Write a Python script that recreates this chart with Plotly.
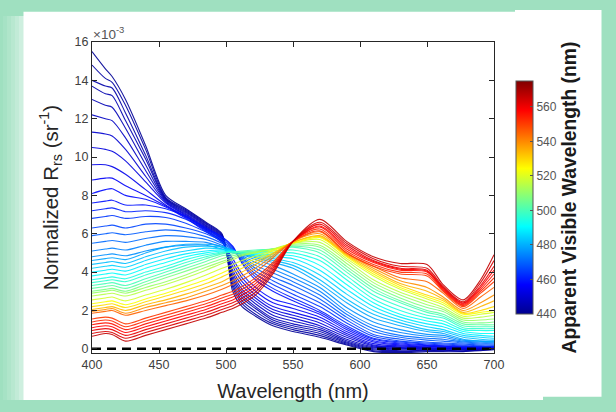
import plotly.graph_objects as go
from plotly.colors import sample_colorscale

# Sampled wavelengths (nm)
wavelength = [400, 410, 415, 425, 440, 455, 470, 485, 497, 505, 512, 522,
              535, 550, 570, 590, 610, 630, 650, 662, 677, 690, 700]

# Normalized Rrs spectra (x 1e-3 sr^-1), grouped by apparent visible wavelength (nm)
avw_navy = [441, 443, 444, 445, 446, 448, 450, 452, 454, 456, 458]
rrs_navy = [
    [15.5, 14.6, 14.2, 13.0, 10.6, 8.0, 7.3, 6.6, 6.0, 3.0, 2.2, 1.7, 1.2, 0.9, 0.6, 0.2, -0.15, -0.2, -0.15, -0.15, -0.15, -0.1, -0.05],
    [14.8, 14.1, 13.9, 12.7, 10.4, 7.9, 7.25, 6.55, 5.95, 3.2, 2.35, 1.8, 1.3, 1.0, 0.7, 0.25, -0.1, -0.15, -0.1, -0.1, -0.12, -0.08, -0.03],
    [14.0, 13.7, 13.6, 12.3, 10.1, 7.85, 7.2, 6.5, 5.9, 3.35, 2.5, 1.95, 1.4, 1.1, 0.8, 0.3, -0.05, -0.1, -0.08, -0.08, -0.1, -0.05, 0.0],
    [13.7, 13.3, 13.2, 11.9, 9.9, 7.8, 7.15, 6.45, 5.85, 3.5, 2.65, 2.1, 1.5, 1.2, 0.9, 0.35, 0.0, -0.05, -0.05, -0.05, -0.05, -0.03, 0.0],
    [13.0, 12.7, 12.6, 11.5, 9.6, 7.75, 7.1, 6.4, 5.8, 3.65, 2.8, 2.2, 1.6, 1.3, 1.0, 0.42, 0.05, 0.0, -0.02, -0.02, -0.03, 0.0, 0.02],
    [12.2, 12.0, 11.9, 11.0, 9.3, 7.7, 7.05, 6.35, 5.75, 3.8, 2.95, 2.35, 1.75, 1.45, 1.1, 0.5, 0.1, 0.03, 0.0, 0.0, 0.0, 0.02, 0.03],
    [11.3, 11.2, 11.1, 10.4, 9.0, 7.65, 7.0, 6.3, 5.7, 3.95, 3.1, 2.5, 1.9, 1.6, 1.2, 0.6, 0.15, 0.07, 0.03, 0.02, 0.02, 0.03, 0.05],
    [10.5, 10.4, 10.3, 9.8, 8.7, 7.6, 6.95, 6.25, 5.65, 4.1, 3.3, 2.65, 2.05, 1.75, 1.35, 0.7, 0.2, 0.1, 0.06, 0.05, 0.04, 0.05, 0.06],
    [9.6, 9.6, 9.5, 9.1, 8.3, 7.5, 6.9, 6.2, 5.6, 4.3, 3.5, 2.8, 2.2, 1.9, 1.5, 0.8, 0.27, 0.15, 0.1, 0.08, 0.06, 0.06, 0.08],
    [8.8, 8.9, 8.9, 8.5, 8.0, 7.45, 6.85, 6.15, 5.6, 4.5, 3.7, 3.0, 2.4, 2.1, 1.65, 0.9, 0.35, 0.2, 0.13, 0.1, 0.08, 0.08, 0.1],
    [8.1, 8.3, 8.35, 8.0, 7.8, 7.4, 6.8, 6.1, 5.55, 4.7, 3.9, 3.2, 2.6, 2.3, 1.8, 1.0, 0.42, 0.25, 0.17, 0.13, 0.1, 0.1, 0.12],
]

avw_blue = [459, 461, 464, 466, 469, 471, 474, 476]
rrs_blue = [
    [7.6, 7.7, 7.75, 7.5, 7.5, 7.3, 6.9, 6.3, 5.85, 5.35, 4.45, 3.6, 3.0, 2.5, 1.9, 1.1, 0.5, 0.3, 0.2, 0.15, 0.1, 0.1, 0.1],
    [7.2, 7.3, 7.35, 7.15, 7.2, 7.1, 6.75, 6.2, 5.8, 5.3, 4.5, 3.75, 3.15, 2.65, 2.0, 1.2, 0.55, 0.35, 0.25, 0.2, 0.15, 0.12, 0.12],
    [6.8, 6.9, 6.95, 6.8, 6.9, 6.85, 6.55, 6.1, 5.7, 5.25, 4.6, 3.9, 3.35, 2.85, 2.2, 1.35, 0.65, 0.4, 0.3, 0.25, 0.2, 0.15, 0.15],
    [6.3, 6.4, 6.45, 6.3, 6.5, 6.5, 6.3, 6.0, 5.6, 5.2, 4.7, 4.05, 3.55, 3.05, 2.4, 1.5, 0.75, 0.5, 0.35, 0.3, 0.25, 0.2, 0.2],
    [5.9, 6.0, 6.05, 5.95, 6.1, 6.2, 6.1, 5.85, 5.5, 5.15, 4.75, 4.2, 3.75, 3.3, 2.6, 1.65, 0.9, 0.6, 0.45, 0.4, 0.3, 0.25, 0.25],
    [5.5, 5.6, 5.65, 5.55, 5.75, 5.9, 5.85, 5.7, 5.4, 5.1, 4.8, 4.35, 3.95, 3.5, 2.8, 1.8, 1.05, 0.7, 0.55, 0.5, 0.35, 0.3, 0.3],
    [5.1, 5.2, 5.25, 5.15, 5.4, 5.6, 5.6, 5.55, 5.3, 5.05, 4.85, 4.5, 4.15, 3.7, 3.0, 1.95, 1.2, 0.85, 0.65, 0.6, 0.4, 0.35, 0.35],
    [4.8, 4.9, 4.95, 4.85, 5.1, 5.3, 5.4, 5.4, 5.2, 5.0, 4.9, 4.65, 4.35, 3.9, 3.2, 2.15, 1.4, 1.0, 0.75, 0.7, 0.45, 0.4, 0.4],
]

avw_cyan = [479, 482, 485, 488, 491, 494, 497]
rrs_cyan = [
    [4.6, 4.7, 4.75, 4.65, 5.0, 5.3, 5.45, 5.45, 5.35, 5.15, 4.95, 4.75, 4.5, 4.2, 3.4, 2.4, 1.6, 1.2, 0.9, 0.8, 0.5, 0.4, 0.35],
    [4.4, 4.5, 4.55, 4.45, 4.8, 5.1, 5.3, 5.35, 5.3, 5.1, 4.95, 4.8, 4.6, 4.35, 3.6, 2.6, 1.8, 1.35, 1.0, 0.9, 0.6, 0.5, 0.45],
    [4.2, 4.3, 4.35, 4.25, 4.6, 4.9, 5.1, 5.25, 5.2, 5.1, 5.0, 4.85, 4.7, 4.5, 3.85, 2.85, 2.0, 1.5, 1.15, 1.0, 0.7, 0.6, 0.55],
    [4.0, 4.1, 4.15, 4.05, 4.4, 4.7, 4.95, 5.1, 5.15, 5.1, 5.0, 4.9, 4.8, 4.7, 4.1, 3.1, 2.2, 1.65, 1.3, 1.15, 0.8, 0.7, 0.65],
    [3.8, 3.9, 3.95, 3.85, 4.2, 4.5, 4.8, 5.0, 5.1, 5.05, 5.0, 4.95, 4.9, 4.85, 4.35, 3.35, 2.4, 1.8, 1.45, 1.3, 0.9, 0.8, 0.8],
    [3.6, 3.7, 3.75, 3.65, 4.0, 4.3, 4.65, 4.9, 5.05, 5.05, 5.0, 5.0, 5.0, 5.0, 4.6, 3.6, 2.6, 2.0, 1.6, 1.45, 1.0, 0.95, 0.95],
    [3.45, 3.55, 3.6, 3.5, 3.85, 4.15, 4.5, 4.8, 5.0, 5.05, 5.05, 5.05, 5.1, 5.15, 4.8, 3.8, 2.8, 2.2, 1.75, 1.6, 1.1, 1.05, 1.05],
]

avw_green = [500, 503, 507, 511, 515]
rrs_green = [
    [3.3, 3.4, 3.45, 3.3, 3.65, 4.0, 4.35, 4.7, 4.95, 5.05, 5.1, 5.15, 5.2, 5.3, 5.0, 4.0, 3.0, 2.4, 1.9, 1.7, 1.2, 1.15, 1.15],
    [3.15, 3.25, 3.3, 3.15, 3.5, 3.85, 4.2, 4.55, 4.85, 4.95, 5.05, 5.1, 5.2, 5.35, 5.15, 4.15, 3.15, 2.5, 2.0, 1.8, 1.3, 1.25, 1.25],
    [3.0, 3.1, 3.15, 3.0, 3.35, 3.7, 4.05, 4.4, 4.7, 4.85, 4.95, 5.05, 5.2, 5.4, 5.3, 4.3, 3.3, 2.65, 2.15, 1.95, 1.4, 1.35, 1.4],
    [2.9, 3.0, 3.05, 2.9, 3.2, 3.5, 3.85, 4.25, 4.55, 4.75, 4.9, 5.05, 5.2, 5.45, 5.4, 4.45, 3.45, 2.8, 2.3, 2.05, 1.5, 1.5, 1.55],
    [2.75, 2.85, 2.9, 2.75, 3.05, 3.35, 3.7, 4.1, 4.45, 4.65, 4.85, 5.0, 5.2, 5.5, 5.55, 4.6, 3.6, 2.95, 2.45, 2.15, 1.6, 1.65, 1.75],
]

avw_orange = [519, 524, 529, 534, 539, 545]
rrs_orange = [
    [2.55, 2.65, 2.7, 2.5, 2.8, 3.1, 3.45, 3.85, 4.2, 4.4, 4.6, 4.85, 5.15, 5.5, 5.7, 4.7, 3.8, 3.1, 2.6, 2.3, 1.7, 1.8, 1.9],
    [2.35, 2.45, 2.5, 2.3, 2.6, 2.9, 3.25, 3.6, 3.95, 4.2, 4.4, 4.7, 5.1, 5.5, 5.8, 4.8, 3.9, 3.2, 2.7, 2.4, 1.8, 1.9, 2.0],
    [2.2, 2.3, 2.35, 2.15, 2.45, 2.75, 3.05, 3.4, 3.75, 4.0, 4.2, 4.55, 5.0, 5.55, 5.85, 4.85, 4.0, 3.3, 2.8, 2.5, 1.85, 2.0, 2.2],
    [2.05, 2.15, 2.2, 2.0, 2.3, 2.55, 2.85, 3.2, 3.5, 3.8, 4.0, 4.4, 4.95, 5.55, 5.9, 4.9, 4.1, 3.4, 3.0, 2.6, 1.9, 2.2, 2.5],
    [1.95, 2.05, 2.1, 1.85, 2.15, 2.4, 2.65, 3.0, 3.3, 3.55, 3.8, 4.2, 4.85, 5.6, 6.0, 4.95, 4.2, 3.55, 3.2, 2.7, 2.0, 2.4, 2.8],
    [1.85, 1.95, 2.0, 1.75, 2.0, 2.25, 2.5, 2.8, 3.1, 3.35, 3.6, 4.0, 4.75, 5.6, 6.1, 5.0, 4.3, 3.7, 3.5, 2.9, 2.1, 2.7, 3.2],
]

avw_red = [551, 553, 556, 558, 561, 563, 566]
rrs_red = [
    [1.55, 1.65, 1.6, 1.3, 1.6, 1.9, 2.2, 2.5, 2.8, 3.0, 3.25, 3.7, 4.5, 5.6, 6.15, 5.0, 4.3, 3.9, 3.8, 3.0, 2.2, 2.9, 3.5],
    [1.4, 1.5, 1.45, 1.15, 1.45, 1.75, 2.05, 2.35, 2.65, 2.85, 3.1, 3.55, 4.4, 5.6, 6.25, 5.1, 4.4, 4.0, 3.9, 3.05, 2.25, 3.0, 3.7],
    [1.25, 1.35, 1.3, 1.0, 1.3, 1.6, 1.9, 2.2, 2.5, 2.7, 2.95, 3.4, 4.3, 5.6, 6.35, 5.2, 4.5, 4.1, 4.0, 3.1, 2.3, 3.1, 3.9],
    [1.1, 1.2, 1.15, 0.85, 1.15, 1.45, 1.75, 2.05, 2.35, 2.55, 2.8, 3.25, 4.2, 5.6, 6.4, 5.3, 4.55, 4.15, 4.05, 3.15, 2.35, 3.2, 4.1],
    [0.95, 1.05, 1.0, 0.7, 1.0, 1.3, 1.6, 1.9, 2.2, 2.4, 2.65, 3.1, 4.1, 5.6, 6.5, 5.4, 4.6, 4.2, 4.1, 3.2, 2.4, 3.3, 4.3],
    [0.8, 0.9, 0.85, 0.55, 0.85, 1.15, 1.45, 1.75, 2.05, 2.25, 2.5, 2.95, 4.0, 5.6, 6.6, 5.5, 4.7, 4.3, 4.2, 3.25, 2.45, 3.45, 4.6],
    [0.65, 0.8, 0.75, 0.4, 0.7, 1.0, 1.3, 1.6, 1.9, 2.1, 2.35, 2.8, 3.9, 5.6, 6.75, 5.6, 4.8, 4.45, 4.4, 3.35, 2.55, 3.6, 4.9],
]

x_ticks = [400, 450, 500, 550, 600, 650, 700]
y_ticks = [0, 2, 4, 6, 8, 10, 12, 14, 16]
cbar_ticks = [440, 460, 480, 500, 520, 540, 560]
avw_min, avw_max = 440, 575
zero_level = 0.0

JET = [[0.0, "rgb(0,0,143)"], [0.125, "rgb(0,0,255)"], [0.375, "rgb(0,255,255)"],
       [0.625, "rgb(255,255,0)"], [0.875, "rgb(255,0,0)"], [1.0, "rgb(128,0,0)"]]

FONT = "Liberation Sans, Arial, sans-serif"
W, H = 616, 412
ML, MR, MT, MB = 92, 122, 42, 59
PW, PH = W - ML - MR, H - MT - MB


def px_x(px):
    return (px - ML) / PW


def px_y(py):
    return (H - MB - py) / PH


fig = go.Figure()

groups = [(avw_navy, rrs_navy), (avw_blue, rrs_blue), (avw_cyan, rrs_cyan),
          (avw_green, rrs_green), (avw_orange, rrs_orange), (avw_red, rrs_red)]
for avws, spectra in groups:
    for avw, rrs in zip(avws, spectra):
        colour = sample_colorscale(JET, [(avw - avw_min) / (avw_max - avw_min)])[0]
        fig.add_trace(go.Scatter(
            x=wavelength, y=rrs, mode="lines",
            line=dict(color=colour, width=1.1, shape="spline", smoothing=0.8),
            opacity=0.9, hoverinfo="skip", showlegend=False))

# zero reference line
fig.add_trace(go.Scatter(
    x=[wavelength[0], wavelength[-1]], y=[zero_level, zero_level], mode="lines",
    line=dict(color="black", width=2.6, dash="9px,6px"),
    hoverinfo="skip", showlegend=False))

# colour bar for apparent visible wavelength
fig.add_trace(go.Scatter(
    x=[None], y=[None], mode="markers", showlegend=False, hoverinfo="skip",
    marker=dict(color=[avw_min], cmin=avw_min, cmax=avw_max, colorscale=JET,
                showscale=True,
                colorbar=dict(
                    x=px_x(515.5), xanchor="left", xpad=0,
                    y=0.5, yanchor="middle", ypad=0,
                    len=(314 - 81) / PH, lenmode="fraction",
                    thickness=17, thicknessmode="pixels",
                    outlinewidth=1, outlinecolor="#555",
                    tickmode="array", tickvals=cbar_ticks,
                    ticks="inside", ticklen=3, tickcolor="#555",
                    tickfont=dict(family=FONT, size=12, color="#555"),
                    title=dict(text="<b>Apparent Visible Wavelength (nm)</b>",
                               side="right",
                               font=dict(family=FONT, size=19.3, color="#1a1a1a"))))))

axis_common = dict(showgrid=False, zeroline=False, showline=True, linecolor="#262626",
                   linewidth=1, mirror="ticks", ticks="inside", ticklen=5,
                   tickcolor="#262626",
                   tickfont=dict(family=FONT, size=12.5, color="#404040"))

fig.update_xaxes(range=[400, 700], tickvals=x_ticks,
                 title=dict(text="Wavelength (nm)", standoff=12,
                            font=dict(family=FONT, size=20, color="#262626")),
                 **axis_common)
fig.update_yaxes(range=[-0.22, 16], tickvals=y_ticks,
                 title=dict(text="Normalized R<sub>rs</sub> (sr<sup>-1</sup>)", standoff=10,
                            font=dict(family=FONT, size=20.5, color="#262626")),
                 **axis_common)

# soft glow on the left edge of the frame
for x_left, alpha in [(3, 0.08), (7, 0.1), (11, 0.12), (15, 0.15), (19, 0.2)]:
    fig.add_shape(type="rect", xref="paper", yref="paper", layer="below",
                  x0=px_x(x_left), x1=px_x(24), y0=px_y(400), y1=px_y(16),
                  fillcolor="white", opacity=alpha, line=dict(width=0))

# white panel on green frame
fig.add_shape(type="rect", xref="paper", yref="paper", layer="below",
              x0=px_x(23.5), x1=px_x(543), y0=px_y(400), y1=px_y(11.7),
              fillcolor="white", line=dict(width=0))
fig.add_shape(type="rect", xref="paper", yref="paper", layer="below",
              x0=px_x(515), x1=px_x(601.5), y0=px_y(396.7), y1=px_y(10),
              fillcolor="white", line=dict(width=0))

fig.add_annotation(xref="paper", yref="paper", x=px_x(91), y=px_y(33),
                   xanchor="left", yanchor="middle", showarrow=False,
                   text="\u00d710<sup>-3</sup>",
                   font=dict(family=FONT, size=13.5, color="#555"))

fig.update_layout(width=W, height=H,
                  margin=dict(l=ML, r=MR, t=MT, b=MB, autoexpand=False),
                  paper_bgcolor="#9fe0c0", plot_bgcolor="white",
                  font=dict(family=FONT))

fig.write_html("out.html")
